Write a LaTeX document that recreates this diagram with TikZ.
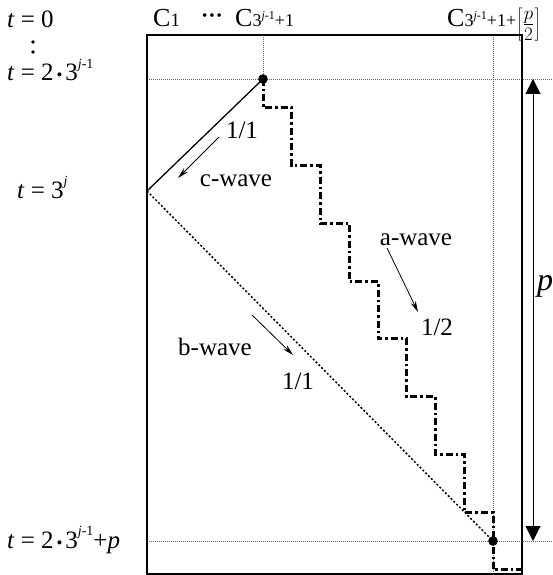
\documentclass[tikz,border=0pt]{standalone}
\usepackage{fontspec}
\setmainfont{Liberation Serif}
\usetikzlibrary{arrows.meta}
\newcommand{\supjm}{\raisebox{0.5em}{\fontsize{14}{14}\selectfont\textit{j}-1}}
\newcommand{\supjmsmall}{\raisebox{0.42em}{\fontsize{12}{12}\selectfont\textit{j}-1}}
\newcommand{\mybul}{{\fontsize{17}{17}\selectfont\,\textbullet\,}}
\begin{document}
\begin{tikzpicture}[x=1pt,y=-1pt,
  lbl/.style={font=\fontsize{25}{27}\selectfont, inner sep=0pt},
  tlbl/.style={lbl, anchor=base west},
  clbl/.style={font=\fontsize{26}{27}\selectfont, inner sep=0pt, anchor=base west},
  guide/.style={gray!80!black, line width=0.6pt, dash pattern=on 1pt off 1pt},
  thinarrow/.style={line width=0.8pt, -{Stealth[length=11pt,width=5.5pt]}},
  wavea/.style={line width=3pt, dash pattern=on 7pt off 3pt on 2.5pt off 3pt},
  waveb/.style={line width=1.5pt, dash pattern=on 2pt off 2pt},
  wavec/.style={line width=1.3pt}]
\useasboundingbox (0,0) rectangle (553,575);

% guides
\coordinate (A) at (263,79);
\coordinate (B) at (147,191);
\coordinate (D) at (493,541);
\coordinate (gl1) at (147,79);
\coordinate (gr1) at (553,79);
\coordinate (gl2) at (147,541);
\coordinate (gr2) at (553,541);
\coordinate (vt1) at (263,35);
\coordinate (vt2) at (493,35);
\coordinate (vb2) at (493,575);
\draw[guide] (gl1) -- (gr1);
\draw[guide] (gl2) -- (gr2);
\draw[guide] (vt1) -- (A);
\draw[guide] (vt2) -- (vb2);

% box
\draw[line width=1.6pt] (147,574.2) rectangle (522,35);

% waves
\draw[wavec] (A) -- (B);
\draw[waveb] (B) -- (D);
\draw[wavea] (A) -- ++(0,28.875)
  \foreach \i in {1,...,8}{ -- ++(28.75,0) -- ++(0,57.75)} -- ++(28.75,0);
\fill (A) circle (4.8);
\fill (D) circle (4.8);

% p arrow
\coordinate (pt) at (533,79);
\coordinate (pb) at (533,541);
\draw[line width=1pt, {Triangle[length=15pt,width=15pt]}-{Triangle[length=15pt,width=15pt]}] (pt) -- (pb);
\node[font=\fontsize{32}{32}\selectfont\itshape, inner sep=0pt, anchor=base west] (p) at (537,290) {p};

% wave labels and arrows
\coordinate (ca1) at (219,137);
\coordinate (ca2) at (178,178);
\draw[thinarrow] (ca1) -- (ca2);
\node[lbl] (c11) at (242,130) {1/1};
\node[lbl] (cw) at (236,181) {c-wave};

\coordinate (aa1) at (387,248);
\coordinate (aa2) at (418,312);
\draw[thinarrow] (aa1) -- (aa2);
\node[lbl] (aw) at (416,240) {a-wave};
\node[lbl] (a12) at (437,327) {1/2};

\coordinate (ba1) at (252,315);
\coordinate (ba2) at (293,355);
\draw[thinarrow] (ba1) -- (ba2);
\node[lbl] (bw) at (215,347) {b-wave};
\node[lbl] (b11) at (298,381) {1/1};

% column labels
\node[clbl] (c1) at (153,27) {C{\fontsize{19}{19}\selectfont 1}};
\node[inner sep=0pt, font=\fontsize{15}{15}\selectfont] (cdots) at (212,17) {\textbullet\hspace{2pt}\textbullet\hspace{2pt}\textbullet};
\node[clbl] (c3) at (447,27) {C{\fontsize{18}{18}\selectfont 3\supjmsmall+1+}\raisebox{-4pt}{\scalebox{1.1}{$\left[\frac{p}{2}\right]$}}};
\node[clbl] (c2) at (235,27) {C{\fontsize{18}{18}\selectfont 3\supjmsmall+1}};

% time labels
\node[tlbl] (t0) at (7,28) {\textit{t} = 0};
\fill (33,42) circle (1.8);
\fill (33,52) circle (1.8);
\node[tlbl] (t1) at (7,81) {\textit{t} = 2\mybul 3\supjm};
\node[tlbl] (t2) at (17,198) {\textit{t} = 3{\raisebox{0.5em}{\fontsize{14}{14}\selectfont\textit{j}}}};
\node[tlbl] (t3) at (7,548) {\textit{t} = 2\mybul 3\supjm+\textit{p}};
\end{tikzpicture}
\end{document}
